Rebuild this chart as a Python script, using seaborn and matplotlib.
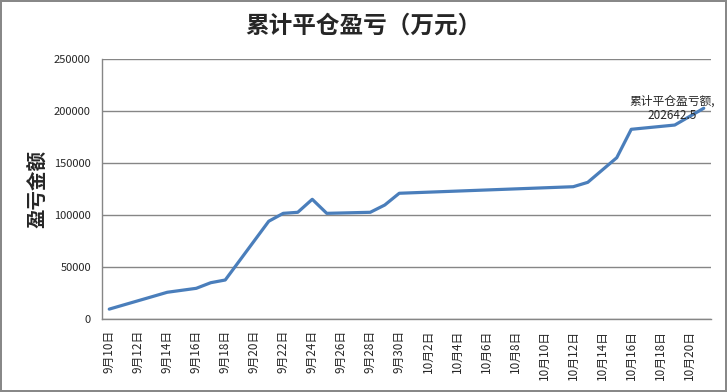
import matplotlib
matplotlib.use("Agg")
import matplotlib.pyplot as plt
import seaborn as sns
import pandas as pd
import numpy as np

# trading days with visible vertices (2015)
dates = ["2015-09-10", "2015-09-14", "2015-09-16", "2015-09-17", "2015-09-18",
         "2015-09-21", "2015-09-22", "2015-09-23", "2015-09-24", "2015-09-25",
         "2015-09-28", "2015-09-29", "2015-09-30", "2015-10-12", "2015-10-13",
         "2015-10-15", "2015-10-16", "2015-10-19", "2015-10-21"]
pnl = [9500, 25700, 29500, 34900, 37500,
       94000, 101600, 102600, 115100, 101600,
       102600, 109600, 120900, 127200, 131400,
       155100, 182400, 186500, 202642.5]
yticks = [0, 50000, 100000, 150000, 200000, 250000]

df = pd.DataFrame({"date": pd.to_datetime(dates), "pnl": pnl})

sns.set_style("white")
plt.rcParams['font.family'] = ['Noto Sans CJK SC', 'DejaVu Sans']

fig = plt.figure(figsize=(7.27, 3.92), dpi=100)
fig.patch.set_edgecolor("#888888")
fig.patch.set_linewidth(1.5)
ax = fig.add_axes([102/727, 1-319/392, 609/727, 260/392])

sns.lineplot(data=df, x="date", y="pnl", color="#4a7ebb", linewidth=2.3, ax=ax)

first = df["date"].iloc[0]
last = df["date"].iloc[-1]
ax.set_xlim(first - pd.Timedelta(hours=12), last + pd.Timedelta(hours=12))
ax.set_ylim(0, 250000)
ax.set_yticks(yticks)
ax.set_yticklabels([str(v) for v in yticks], fontsize=8)
ax.yaxis.grid(True, color="#868686", linewidth=1)
ax.set_axisbelow(True)

tick_days = pd.date_range(first, last, freq="2D")
ax.set_xticks(tick_days)
ax.set_xticklabels([f"{d.month}月{d.day}日" for d in tick_days], rotation=90,
                   fontsize=8.5, va="top", ha="center")
ax.tick_params(axis="both", length=0)
ax.tick_params(axis="x", pad=8)
ax.tick_params(axis="y", pad=8)

for s in ["top", "right"]:
    ax.spines[s].set_visible(False)
for s in ["left", "bottom"]:
    ax.spines[s].set_color("#868686")
    ax.spines[s].set_linewidth(1)

ax.set_xlabel("")
ax.set_ylabel("盈亏金额", fontsize=14, fontweight="bold", labelpad=5)

ax.annotate("累计平仓盈亏额,\n202642.5", xy=(last, pnl[-1]), xytext=(-32, 0),
            textcoords="offset pixels", ha="center", va="center", fontsize=8.5,
            linespacing=1.2)

fig.suptitle("累计平仓盈亏（万元）", fontsize=17, fontweight="bold", y=0.965)

fig.savefig("out.png", dpi=100)
